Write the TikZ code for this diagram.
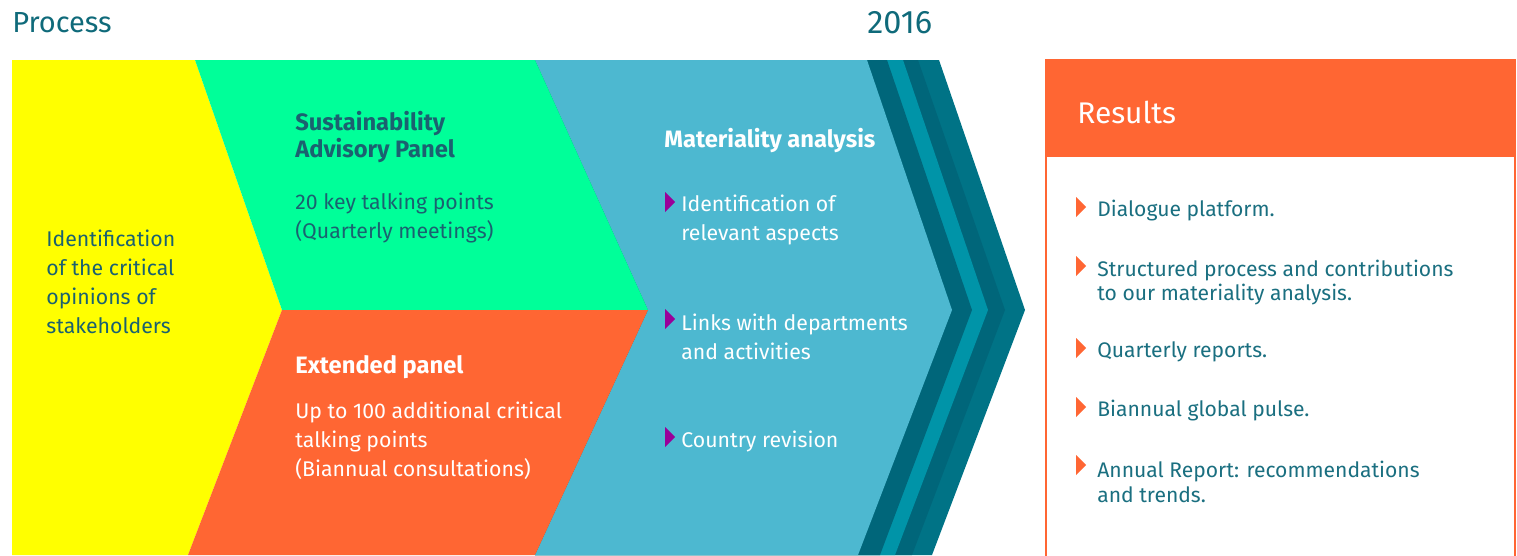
\documentclass[tikz,border=0pt]{standalone}
\usepackage{fontspec}
\setmainfont{Fira Sans}
\definecolor{ProcYellow}{HTML}{FFFF00}
\definecolor{ProcGreen}{HTML}{00FF99}
\definecolor{ProcOrange}{HTML}{FF6633}
\definecolor{ProcBlue}{HTML}{4DB8D0}
\definecolor{StripeDark}{HTML}{00667A}
\definecolor{StripeMid}{HTML}{0094A8}
\definecolor{StripeBack}{HTML}{007386}
\definecolor{ProcTitle}{HTML}{0F6A7A}
\definecolor{ProcInk}{HTML}{1B6170}
\definecolor{ResultInk}{HTML}{1A6F80}
\definecolor{MarkPurple}{HTML}{990099}
\newcommand{\stagefont}{\fontsize{12.1}{16.5}\selectfont}
\newcommand{\resultfont}{\fontsize{12}{14.2}\selectfont}
\newcommand{\marker}[3]{\fill[#1] (#2,#3) -- ++(10,10) -- ++(-10,10) -- cycle;}

\begin{document}
\begin{tikzpicture}[
        x=0.02cm, y=-0.02cm,
        heading/.style={
            anchor=west,
            inner sep=0pt,
            text=ProcTitle,
            font=\fontsize{16.5}{19}\selectfont
        },
        stagetext/.style={
            anchor=west,
            inner sep=0pt,
            align=left,
            font=\stagefont
        },
        stagetitle/.style={
            anchor=west,
            inner sep=0pt,
            align=left,
            font=\fontsize{13.5}{13.7}\selectfont\bfseries
        },
        resultitem/.style={
            anchor=west,
            inner sep=0pt,
            align=left,
            text=ResultInk,
            font=\resultfont
        }
    ]
        \clip (0,0) rectangle (1517,555);

        \node[heading] (process) at (12,23) {Process};
        \node[heading, font=\fontsize{18.5}{21}\selectfont] (year) at (867,23) {2016};

        % chevron stripes, back to front
        \fill[StripeBack] (535,60) -- (939,60) -- (1025,310) -- (932,555) -- (535,555) -- cycle;
        \fill[StripeDark] (535,60) -- (918,60) -- (1005,310) -- (912,555) -- (535,555) -- cycle;
        \fill[StripeMid] (535,60) -- (903,60) -- (988,310) -- (895,555) -- (535,555) -- cycle;
        \fill[StripeDark] (535,60) -- (887,60) -- (972,310) -- (880,555) -- (535,555) -- cycle;
        \fill[ProcBlue] (535,60) -- (867,60) -- (952,310) -- (858,555) -- (535,555) -- (648,310) -- cycle;

        \fill[ProcYellow] (12,60) -- (195,60) -- (282,310) -- (188,555) -- (12,555) -- cycle;
        \fill[ProcGreen] (195,60) -- (535,60) -- (648,310) -- (282,310) -- cycle;
        \fill[ProcOrange] (282,310) -- (648,310) -- (535,555) -- (188,555) -- cycle;

        \node[stagetext, text=ProcInk] (opinions) at (46,282)
            {Identification\\of the critical\\opinions of\\stakeholders};

        \node[stagetitle, text=ProcInk] (advisory) at (295,137)
            {Sustainability\\Advisory Panel};
        \node[stagetext, text=ProcInk, font=\fontsize{12.1}{17}\selectfont] (advisorypoints) at (295,218)
            {20 key talking points\\(Quarterly meetings)};

        \node[stagetitle, text=white] (extended) at (295,367)
            {Extended panel};
        \node[stagetext, text=white] (extendedpoints) at (295,441)
            {Up to 100 additional critical\\talking points\\(Biannual consultations)};

        \node[stagetitle, text=white] (materiality) at (664,141)
            {Materiality analysis};
        \node[stagetext, text=white] (aspects) at (681,220)
            {Identification of\\relevant aspects};
        \node[stagetext, text=white] (links) at (681,337)
            {Links with departments\\and activities};
        \node[stagetext, text=white] (country) at (681,441)
            {Country revision};
        \marker{MarkPurple}{665}{192}
        \marker{MarkPurple}{665}{309}
        \marker{MarkPurple}{665}{427}

        % results panel
        \draw[ProcOrange, line width=1.2pt, fill=white] (1046,60) rectangle (1515,600);
        \fill[ProcOrange] (1045,60) rectangle (1516,157);
        \node[anchor=west, inner sep=0pt, text=white, font=\fontsize{17}{20}\selectfont]
            (results) at (1077,112) {Results};

        \node[resultitem] (dialogue) at (1097,211) {Dialogue platform.};
        \node[resultitem] (structured) at (1097,282.5)
            {Structured process and contributions\\to our materiality analysis.};
        \node[resultitem] (quarterly) at (1097,352) {Quarterly reports.};
        \node[resultitem] (pulse) at (1097,411) {Biannual global pulse.};
        \node[resultitem] (annual) at (1097,481.5)
            {Annual Report: recommendations\\and trends.};
        \marker{ProcOrange}{1076}{197}
        \marker{ProcOrange}{1076}{256}
        \marker{ProcOrange}{1076}{338}
        \marker{ProcOrange}{1076}{397}
        \marker{ProcOrange}{1076}{455}
    \end{tikzpicture}
\end{document}
